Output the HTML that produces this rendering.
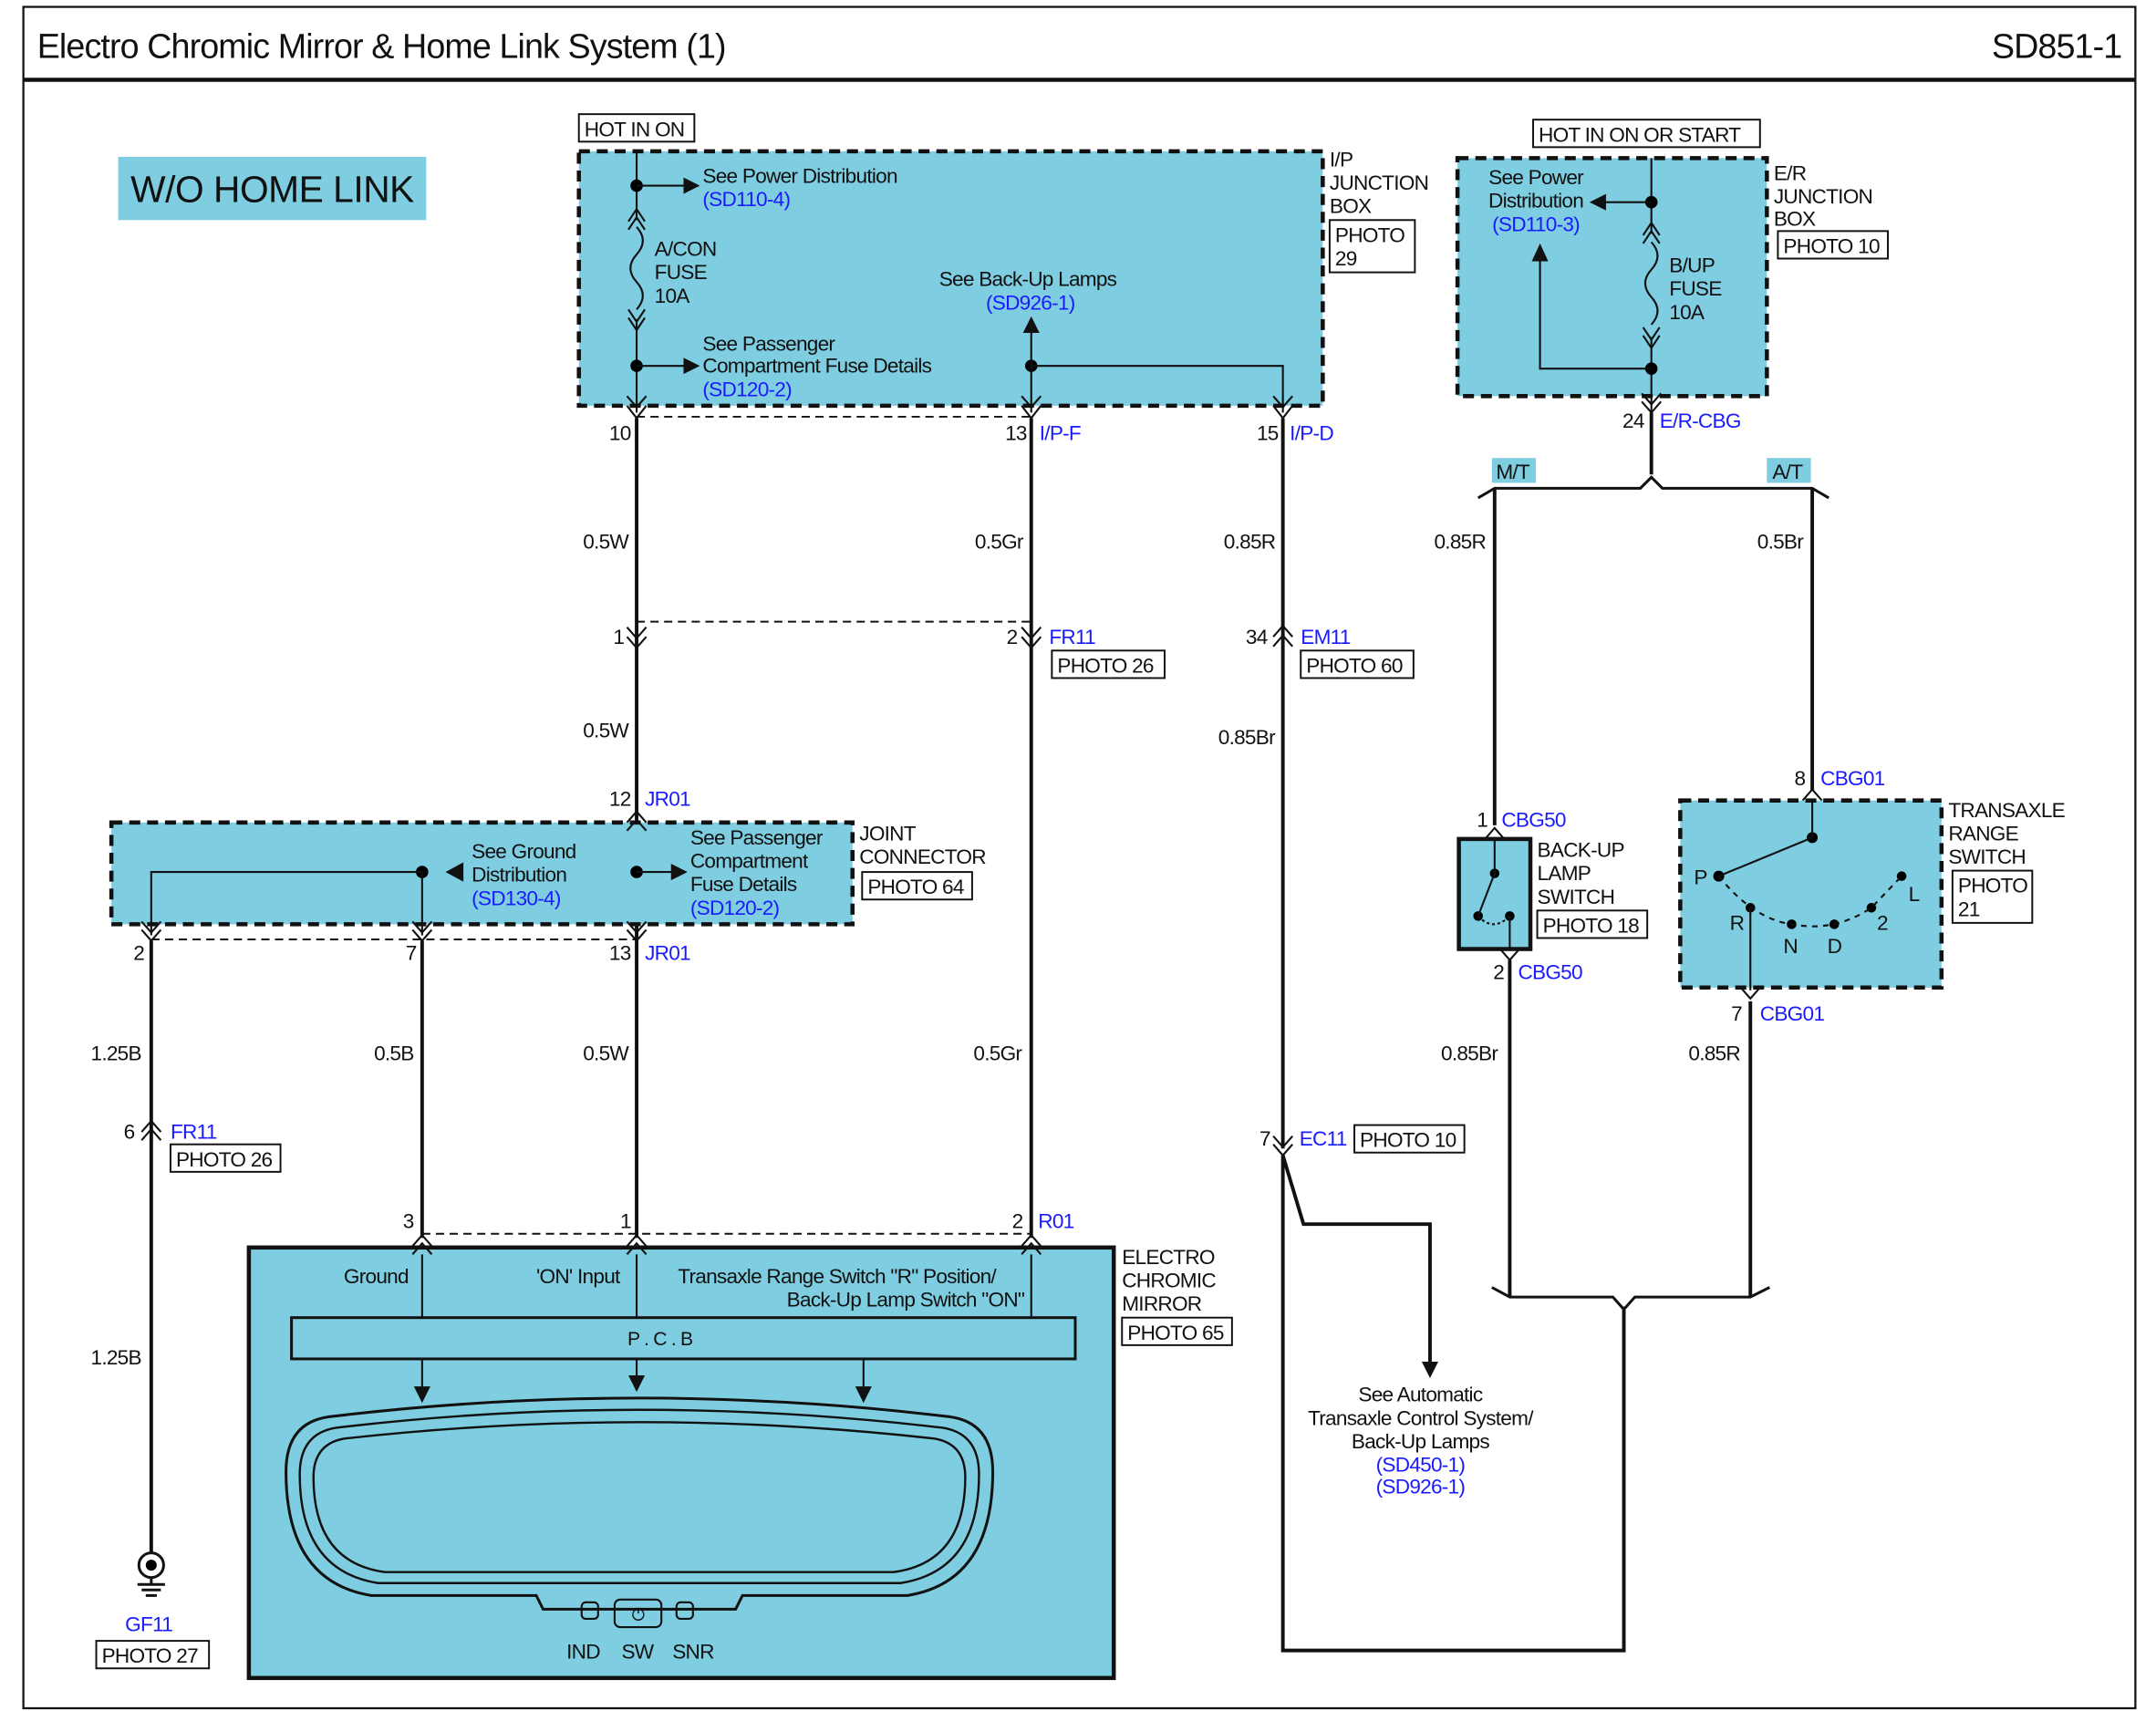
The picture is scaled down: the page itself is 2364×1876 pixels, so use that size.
<!DOCTYPE html>
<html><head><meta charset="utf-8"><style>
html,body{margin:0;padding:0;background:#fff}
svg{display:block}
text{font-family:"Liberation Sans",sans-serif;font-size:15px;letter-spacing:-0.5px;fill:#111}
.b{fill:#1a1aff}
.box{fill:#fff;stroke:#111;stroke-width:1.3}
.w{stroke:#111;stroke-width:2.6;fill:none}
.t{stroke:#111;stroke-width:1.4;fill:none}
.d{stroke:#111;stroke-width:1.3;fill:none;stroke-dasharray:6,4}
.jb{fill:#7ecde0;stroke:#111;stroke-width:3;stroke-dasharray:8,5}
</style></head><body>
<svg width="2364" height="1876" viewBox="0 0 1568 1244" preserveAspectRatio="none" xmlns="http://www.w3.org/2000/svg">
<defs>
<marker id="ar" markerWidth="12" markerHeight="12" refX="10" refY="6" orient="auto" markerUnits="userSpaceOnUse"><path d="M0,0 L12,6 L0,12 z" fill="#111"/></marker>
</defs>
<rect x="17" y="5" width="1536" height="1237" fill="none" stroke="#111" stroke-width="1.5"/>
<line x1="17" y1="58" x2="1553" y2="58" stroke="#111" stroke-width="3"/>
<text x="27" y="42" style="font-size:25px;letter-spacing:-0.6px">Electro Chromic Mirror &amp; Home Link System (1)</text>
<text x="1543" y="42" text-anchor="end" style="font-size:25px;letter-spacing:-0.6px">SD851-1</text>
<rect x="86" y="114" width="224" height="46" fill="#7ecde0"/>
<text x="198" y="147" text-anchor="middle" style="font-size:27px;letter-spacing:-0.3px">W/O HOME LINK</text>

<rect x="421" y="83" width="84" height="20" class="box"/><text x="425" y="99">HOT IN ON</text>
<rect x="421" y="110" width="541" height="185" class="jb"/>
<text x="967" y="121">I/P</text><text x="967" y="138">JUNCTION</text><text x="967" y="155">BOX</text>
<rect x="967" y="160" width="62" height="38" class="box"/><text x="971" y="176">PHOTO</text><text x="971" y="193">29</text>
<path class="t" d="M463,110 V160 M463,232 V300"/>
<path class="t" d="M457,167 L463,158 L469,167 M457,161 L463,152 L469,161 M457,225 L463,234 L469,225 M457,231 L463,240 L469,231"/>
<path class="t" d="M463,165 Q472,175 463,185 Q454,195 463,205 Q472,215 463,225"/>
<circle cx="463" cy="135" r="4.5"/><circle cx="463" cy="266" r="4.5"/>
<line x1="463" y1="135" x2="507" y2="135" class="t" marker-end="url(#ar)"/>
<line x1="463" y1="266" x2="507" y2="266" class="t" marker-end="url(#ar)"/>
<text x="511" y="133">See Power Distribution</text><text x="511" y="150" class="b">(SD110-4)</text>
<text x="476" y="186">A/CON</text><text x="476" y="203">FUSE</text><text x="476" y="220">10A</text>
<text x="511" y="255">See Passenger</text><text x="511" y="271">Compartment Fuse Details</text><text x="511" y="288" class="b">(SD120-2)</text>
<text x="683" y="208">See Back-Up Lamps</text><text x="717" y="225" class="b">(SD926-1)</text>
<circle cx="750" cy="266" r="4.5"/>
<line x1="750" y1="266" x2="750" y2="232" class="t" marker-end="url(#ar)"/>
<path class="t" d="M750,266 V300 M750,266 H933 V300"/>
<g class="t">
<path d="M456,288 L463,296 L470,288 M456,295 L463,304 L470,295"/>
<path d="M743,288 L750,296 L757,288 M743,295 L750,304 L757,295"/>
<path d="M926,288 L933,296 L940,288 M926,295 L933,304 L940,295"/>
</g>
<line x1="463" y1="303" x2="750" y2="303" class="d"/>
<text x="443" y="320">10</text><text x="731" y="320">13</text><text x="756" y="320" class="b">I/P-F</text>
<text x="914" y="320">15</text><text x="938" y="320" class="b">I/P-D</text>

<path class="w" d="M463,304 V900 M750,304 V900 M933,304 V835"/>
<text x="424" y="399">0.5W</text><text x="709" y="399">0.5Gr</text><text x="890" y="399">0.85R</text>
<g class="t">
<path d="M456,456 L463,464 L470,456 M456,463 L463,471 L470,463"/>
<path d="M743,456 L750,464 L757,456 M743,463 L750,471 L757,463"/>
<path d="M926,463 L933,455 L940,463 M926,470 L933,462 L940,470"/>
</g>
<line x1="463" y1="452" x2="750" y2="452" class="d"/>
<text x="446" y="468">1</text><text x="732" y="468">2</text><text x="763" y="468" class="b">FR11</text>
<rect x="765" y="473" width="82" height="20" class="box"/><text x="769" y="489">PHOTO 26</text>
<text x="906" y="468">34</text><text x="946" y="468" class="b">EM11</text>
<rect x="946" y="473" width="82" height="20" class="box"/><text x="950" y="489">PHOTO 60</text>
<text x="424" y="536">0.5W</text><text x="886" y="541">0.85Br</text>

<text x="443" y="586">12</text><text x="469" y="586" class="b">JR01</text>
<rect x="81" y="598" width="539" height="74" class="jb"/>
<path class="t" d="M456,598 L463,590 L470,598 M456,604 L463,596 L470,604"/>
<text x="625" y="611">JOINT</text><text x="625" y="628">CONNECTOR</text>
<rect x="627" y="634" width="80" height="20" class="box"/><text x="631" y="650">PHOTO 64</text>
<circle cx="307" cy="634" r="4.5"/><circle cx="463" cy="634" r="4.5"/>
<path class="t" d="M307,634 H110 V680 M307,634 V680"/>
<path d="M337,627 L337,641 L324,634 z" fill="#111"/>
<line x1="463" y1="634" x2="498" y2="634" class="t" marker-end="url(#ar)"/>
<text x="343" y="624">See Ground</text><text x="343" y="641">Distribution</text><text x="343" y="658" class="b">(SD130-4)</text>
<text x="502" y="614">See Passenger</text><text x="502" y="631">Compartment</text><text x="502" y="648">Fuse Details</text><text x="502" y="665" class="b">(SD120-2)</text>
<g class="t">
<path d="M103,670 L110,678 L117,670 M103,676 L110,684 L117,676"/>
<path d="M300,670 L307,678 L314,670 M300,676 L307,684 L314,676"/>
<path d="M456,670 L463,678 L470,670 M456,676 L463,684 L470,676"/>
</g>
<line x1="110" y1="683" x2="463" y2="683" class="d"/>
<text x="97" y="698">2</text><text x="295" y="698">7</text><text x="443" y="698">13</text><text x="469" y="698" class="b">JR01</text>
<path class="w" d="M110,684 V1130 M307,684 V900"/>
<text x="66" y="771">1.25B</text><text x="272" y="771">0.5B</text><text x="424" y="771">0.5W</text><text x="708" y="771">0.5Gr</text>
<path class="t" d="M103,823 L110,815 L117,823 M103,829 L110,821 L117,829"/>
<text x="90" y="828">6</text><text x="124" y="828" class="b">FR11</text>
<rect x="124" y="832" width="80" height="20" class="box"/><text x="128" y="848">PHOTO 26</text>
<text x="66" y="992">1.25B</text>
<circle cx="110" cy="1138" r="9" fill="#fff" stroke="#111" stroke-width="2"/><circle cx="110" cy="1138" r="4"/>
<path class="t" d="M110,1147 V1152 M100,1152 H120 M103,1156 H117 M106,1160 H114" style="stroke-width:2"/>
<text x="91" y="1186" class="b">GF11</text>
<rect x="70" y="1193" width="82" height="20" class="box"/><text x="74" y="1209">PHOTO 27</text>

<text x="293" y="893">3</text><text x="451" y="893">1</text><text x="736" y="893">2</text><text x="755" y="893" class="b">R01</text>
<line x1="307" y1="897" x2="750" y2="897" class="d"/>
<rect x="181" y="907" width="629" height="313" fill="#7ecde0" stroke="#111" stroke-width="3"/>
<g class="t">
<path d="M300,906 L307,898 L314,906 M300,912 L307,904 L314,912"/>
<path d="M456,906 L463,898 L470,906 M456,912 L463,904 L470,912"/>
<path d="M743,906 L750,898 L757,906 M743,912 L750,904 L757,912"/>
<path d="M307,912 V958 M463,912 V958 M750,912 V958"/>
</g>
<text x="250" y="933">Ground</text><text x="390" y="933">'ON' Input</text>
<text x="493" y="933">Transaxle Range Switch "R" Position/</text>
<text x="745" y="950" text-anchor="end">Back-Up Lamp Switch "ON"</text>
<text x="816" y="919">ELECTRO</text><text x="816" y="936">CHROMIC</text><text x="816" y="953">MIRROR</text>
<rect x="816" y="958" width="80" height="20" class="box"/><text x="820" y="974">PHOTO 65</text>
<rect x="212" y="958" width="570" height="30" fill="#7ecde0" stroke="#111" stroke-width="2"/>
<text x="480" y="978" text-anchor="middle" style="font-size:14px">P . C . B</text>
<line x1="307" y1="988" x2="307" y2="1018" class="t" marker-end="url(#ar)"/>
<line x1="463" y1="988" x2="463" y2="1010" class="t" marker-end="url(#ar)"/>
<line x1="628" y1="988" x2="628" y2="1018" class="t" marker-end="url(#ar)"/>
<path class="t" style="stroke-width:2" d="M240,1030 Q465,1003 690,1030 Q722,1034 722,1070 Q722,1150 660,1160 L540,1160 L535,1170 L395,1170 L390,1160 L270,1160 Q208,1150 208,1070 Q208,1034 240,1030 z"/>
<path class="t" style="stroke-width:1.6" d="M245,1038 Q465,1012 685,1038 Q712,1042 712,1072 Q712,1142 655,1151 L275,1151 Q218,1142 218,1072 Q218,1042 245,1038 z"/>
<path class="t" style="stroke-width:1.6" d="M250,1046 Q465,1022 680,1046 Q702,1050 702,1074 Q702,1136 650,1143 L280,1143 Q228,1136 228,1074 Q228,1050 250,1046 z"/>
<rect x="423" y="1165" width="12" height="12" rx="3" class="t" fill="#fff"/>
<rect x="447" y="1163" width="34" height="20" rx="4" class="t" fill="#fff"/>
<text x="464" y="1178" text-anchor="middle" style="font-size:12px">⏻</text>
<rect x="492" y="1165" width="12" height="12" rx="3" class="t" fill="#fff"/>
<text x="412" y="1206">IND</text><text x="452" y="1206">SW</text><text x="489" y="1206">SNR</text>

<path class="t" d="M926,826 L933,834 L940,826 M926,832 L933,840 L940,832"/>
<text x="916" y="833">7</text><text x="945" y="833" class="b">EC11</text>
<rect x="985" y="818" width="80" height="20" class="box"/><text x="989" y="834">PHOTO 10</text>
<path class="w" d="M933,840 V1200 H1181 V950"/>
<path class="w" d="M933,840 L948,890 H1040 V993"/>
<path d="M1034,990 L1046,990 L1040,1002 z" fill="#111"/>
<text x="1033" y="1019" text-anchor="middle">See Automatic</text>
<text x="1033" y="1036" text-anchor="middle">Transaxle Control System/</text>
<text x="1033" y="1053" text-anchor="middle">Back-Up Lamps</text>
<text x="1033" y="1070" text-anchor="middle" class="b">(SD450-1)</text>
<text x="1033" y="1086" text-anchor="middle" class="b">(SD926-1)</text>
<path class="t" style="stroke-width:2" d="M1085,936 L1098,943 H1173 L1181,952 L1189,943 H1273 L1287,936"/>

<rect x="1115" y="87" width="165" height="20" class="box"/><text x="1119" y="103">HOT IN ON OR START</text>
<rect x="1060" y="115" width="225" height="173" class="jb"/>
<text x="1290" y="131">E/R</text><text x="1290" y="148">JUNCTION</text><text x="1290" y="164">BOX</text>
<rect x="1293" y="168" width="80" height="20" class="box"/><text x="1297" y="184">PHOTO 10</text>
<path class="t" d="M1201,115 V170 M1201,245 V300"/>
<path class="t" d="M1195,177 L1201,168 L1207,177 M1195,171 L1201,162 L1207,171 M1195,238 L1201,247 L1207,238 M1195,244 L1201,253 L1207,244"/>
<path class="t" d="M1201,176 Q1210,186 1201,196 Q1192,206 1201,216 Q1210,226 1201,236"/>
<circle cx="1201" cy="147" r="4.5"/><circle cx="1201" cy="268" r="4.5"/>
<line x1="1201" y1="147" x2="1158" y2="147" class="t" marker-end="url(#ar)"/>
<path class="t" d="M1201,268 H1120 V185"/>
<path d="M1114,190 L1126,190 L1120,177 z" fill="#111"/>
<text x="1117" y="134" text-anchor="middle">See Power</text><text x="1117" y="151" text-anchor="middle">Distribution</text><text x="1117" y="168" text-anchor="middle" class="b">(SD110-3)</text>
<text x="1214" y="198">B/UP</text><text x="1214" y="215">FUSE</text><text x="1214" y="232">10A</text>
<path class="t" d="M1194,286 L1201,294 L1208,286 M1194,292 L1201,300 L1208,292"/>
<text x="1180" y="311">24</text><text x="1207" y="311" class="b">E/R-CBG</text>
<path class="w" d="M1201,300 V345"/>
<path class="t" style="stroke-width:2" d="M1075,362 L1087,355 H1193 L1201,347 L1209,355 H1318 L1330,362"/>
<rect x="1085" y="333" width="32" height="18" fill="#7ecde0"/><text x="1088" y="348">M/T</text>
<rect x="1285" y="333" width="32" height="18" fill="#7ecde0"/><text x="1289" y="348">A/T</text>
<path class="w" d="M1087,355 V600 M1318,355 V575"/>
<text x="1043" y="399">0.85R</text><text x="1278" y="399">0.5Br</text>

<path class="t" d="M1080,610 L1087,602 L1094,610"/>
<text x="1074" y="601">1</text><text x="1092" y="601" class="b">CBG50</text>
<rect x="1061" y="610" width="52" height="80" fill="#7ecde0" stroke="#111" stroke-width="3"/>
<circle cx="1087" cy="635" r="3.5"/><circle cx="1075" cy="666" r="3.5"/><circle cx="1098" cy="666" r="3.5"/>
<path class="t" d="M1087,610 V635 L1075,666 M1098,666 V690"/>
<path class="t" d="M1075,666 Q1086,678 1098,666" style="stroke-dasharray:2,2"/>
<path class="t" d="M1091,690 L1098,698 L1105,690"/>
<text x="1086" y="712">2</text><text x="1104" y="712" class="b">CBG50</text>
<text x="1118" y="623">BACK-UP</text><text x="1118" y="640">LAMP</text><text x="1118" y="657">SWITCH</text>
<rect x="1118" y="662" width="80" height="20" class="box"/><text x="1122" y="678">PHOTO 18</text>
<path class="w" d="M1098,698 V943 M1273,728 V943"/>
<text x="1048" y="771">0.85Br</text><text x="1228" y="771">0.85R</text>

<path class="t" d="M1311,582 L1318,574 L1325,582"/>
<text x="1305" y="571">8</text><text x="1324" y="571" class="b">CBG01</text>
<rect x="1222" y="582" width="190" height="136" class="jb"/>
<circle cx="1318" cy="609" r="4"/><circle cx="1250" cy="637" r="4"/><circle cx="1273" cy="660" r="3.5"/>
<circle cx="1303" cy="672" r="3.5"/><circle cx="1334" cy="672" r="3.5"/><circle cx="1361" cy="660" r="3.5"/><circle cx="1383" cy="637" r="3.5"/>
<path class="t" d="M1318,582 V609 L1250,637 M1273,660 V720"/>
<path class="t" style="stroke-dasharray:4,4" d="M1250,637 Q1275,668 1303,672 Q1334,678 1361,660 L1383,637"/>
<text x="1232" y="643">P</text><text x="1258" y="676">R</text><text x="1297" y="693">N</text><text x="1329" y="693">D</text><text x="1365" y="676">2</text><text x="1388" y="655">L</text>
<path class="t" d="M1266,718 L1273,726 L1280,718"/>
<text x="1259" y="742">7</text><text x="1280" y="742" class="b">CBG01</text>
<text x="1417" y="594">TRANSAXLE</text><text x="1417" y="611">RANGE</text><text x="1417" y="628">SWITCH</text>
<rect x="1420" y="633" width="58" height="38" class="box"/><text x="1424" y="649">PHOTO</text><text x="1424" y="666">21</text>
</svg>
</body></html>
